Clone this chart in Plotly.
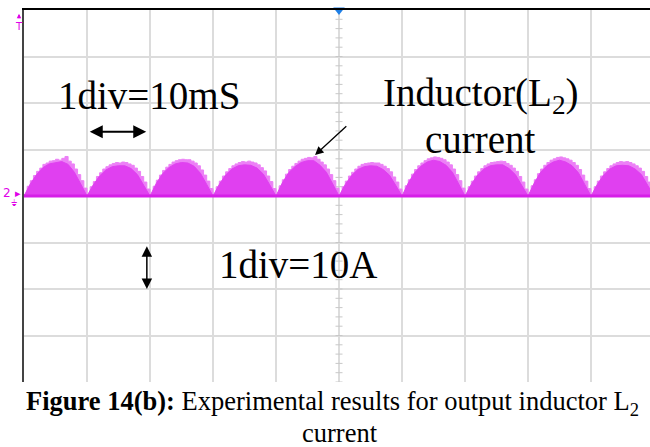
import numpy as np
import plotly.graph_objects as go

# ---- data ----
# time axis: 1 div = 10 ms, current axis: 1 div = 10 A
x_div_ms = 10
y_div_a = 10
n_xdiv = 10
n_ydiv = 8

# upper (ripple-peak) envelope of the inductor L2 current, per 10 ms hump (A), every 0.5 ms
peak_step_ms = 0.5
peak_1 = [0.3, 2.1, 3.3, 4.4, 5.3, 6.0, 6.8, 7.1, 7.5, 7.6, 7.9, 7.7, 8.1, 8.5, 7.5, 6.9, 5.8, 4.6, 3.3, 1.7]
peak_2 = [0.3, 2.0, 3.1, 4.2, 5.0, 5.8, 6.3, 6.7, 7.0, 7.2, 7.1, 7.3, 7.2, 6.9, 6.6, 6.0, 5.3, 4.2, 3.0, 1.5]
peak_3 = [0.3, 2.1, 3.4, 4.5, 5.5, 6.2, 6.8, 7.3, 7.6, 7.8, 7.9, 7.8, 7.8, 7.5, 7.1, 6.5, 5.6, 4.5, 3.2, 1.6]
peak_4 = [0.3, 2.0, 3.2, 4.3, 5.2, 5.9, 6.5, 6.9, 7.2, 7.4, 7.3, 7.5, 7.3, 7.1, 6.7, 6.1, 5.4, 4.3, 3.1, 1.6]
peak_5 = [0.3, 2.2, 3.5, 4.7, 5.7, 6.4, 7.0, 7.5, 7.9, 8.1, 8.3, 8.2, 8.5, 7.9, 7.3, 6.7, 5.8, 4.6, 3.3, 1.7]
peak_6 = [0.3, 2.0, 3.2, 4.3, 5.1, 5.8, 6.4, 6.8, 7.0, 7.1, 7.2, 7.1, 7.1, 6.8, 6.4, 5.9, 5.2, 4.1, 3.0, 1.5]
peak_7 = [0.3, 2.2, 3.5, 4.7, 5.7, 6.5, 7.1, 7.6, 8.0, 8.2, 8.4, 8.3, 8.1, 7.8, 7.3, 6.7, 5.8, 4.6, 3.3, 1.7]
peak_8 = [0.3, 2.0, 3.2, 4.3, 5.2, 5.9, 6.5, 6.9, 7.2, 7.3, 7.4, 7.5, 7.4, 7.0, 6.6, 6.0, 5.3, 4.2, 3.0, 1.5]
peak_9 = [0.3, 2.2, 3.5, 4.8, 5.8, 6.6, 7.2, 7.7, 8.0, 8.3, 8.4, 8.2, 8.0, 7.7, 7.2, 6.6, 5.7, 4.5, 3.2, 1.6]
peak_10 = [0.3, 2.0, 3.2, 4.3, 5.2, 5.9, 6.5, 6.9, 7.2, 7.4, 7.3, 7.4, 7.2, 6.9, 6.5, 6.0, 5.3, 4.2, 3.0, 1.5]
peak_end = [0.3]

# dense body (ripple-valley) envelope, per hump (A), every 1 ms
core_step_ms = 1
core_1 = [0, 2.6, 4.6, 6.1, 6.9, 7.2, 7.4, 6.8, 5.1, 2.6]
core_2 = [0, 2.4, 4.3, 5.6, 6.3, 6.5, 6.5, 5.9, 4.6, 2.3]
core_3 = [0, 2.7, 4.8, 6.1, 6.9, 7.2, 7.1, 6.4, 4.9, 2.5]
core_4 = [0, 2.5, 4.5, 5.8, 6.5, 6.7, 6.6, 6.0, 4.7, 2.4]
core_5 = [0, 2.8, 5.0, 6.3, 7.2, 7.6, 7.6, 6.6, 5.1, 2.6]
core_6 = [0, 2.5, 4.4, 5.7, 6.3, 6.5, 6.4, 5.7, 4.5, 2.3]
core_7 = [0, 2.8, 5.0, 6.4, 7.3, 7.7, 7.4, 6.6, 5.1, 2.6]
core_8 = [0, 2.5, 4.5, 5.8, 6.5, 6.7, 6.7, 5.9, 4.6, 2.3]
core_9 = [0, 2.8, 5.1, 6.5, 7.3, 7.7, 7.3, 6.5, 5.0, 2.5]
core_10 = [0, 2.5, 4.5, 5.8, 6.5, 6.6, 6.5, 5.8, 4.6, 2.3]
core_end = [0]

peak_current = (peak_1 + peak_2 + peak_3 + peak_4 + peak_5 + peak_6 + peak_7
                + peak_8 + peak_9 + peak_10 + peak_end)
core_current = (core_1 + core_2 + core_3 + core_4 + core_5 + core_6 + core_7
                + core_8 + core_9 + core_10 + core_end)
peak_time = np.arange(len(peak_current)) * peak_step_ms
core_time = np.arange(len(core_current)) * core_step_ms

# ---- figure ----
W, H = 650, 447
ml, mt, mb = 24, 10, 65
plot_w = 630  # full 10-division width; right part falls outside the picture
x_max = n_xdiv * x_div_ms * (W - ml) / plot_w

MAG = "rgb(224,64,240)"
MAG_LIGHT = "rgb(236,128,246)"
MAG_DARK = "rgb(214,30,232)"
SERIF = "Liberation Serif"

fig = go.Figure()

# centre graticule minor ticks
minor_y = np.arange(-n_ydiv / 2 * y_div_a, n_ydiv / 2 * y_div_a + 0.1, y_div_a / 5)
fig.add_trace(go.Scatter(
    x=[n_xdiv * x_div_ms / 2] * len(minor_y), y=minor_y, mode="markers",
    marker=dict(symbol="line-ew", size=5, line=dict(width=1, color="#c8c8c8")),
    hoverinfo="skip", showlegend=False))

# waveform: light ripple peaks, dense magenta body, thick baseline
fig.add_trace(go.Scatter(
    x=peak_time, y=peak_current, mode="lines", fill="tozeroy", line_shape="hv",
    fillcolor=MAG_LIGHT, line=dict(color=MAG_LIGHT, width=1),
    showlegend=False))
fig.add_trace(go.Scatter(
    x=core_time, y=core_current, mode="lines", fill="tozeroy",
    fillcolor=MAG, line=dict(color=MAG, width=1),
    showlegend=False))
fig.add_trace(go.Scatter(
    x=core_time, y=[0] * len(core_time), mode="lines",
    line=dict(color=MAG_DARK, width=3), showlegend=False))

# trigger position marker (top centre)
fig.add_trace(go.Scatter(
    x=[n_xdiv * x_div_ms / 2], y=[n_ydiv / 2 * y_div_a], mode="markers",
    marker=dict(symbol="triangle-down", size=10, color="#1e7fe6"),
    cliponaxis=False, showlegend=False))

tick_x = [i * x_div_ms for i in range(1, n_xdiv)]
tick_y = [(-n_ydiv / 2 + i) * y_div_a for i in range(1, n_ydiv + 1)]

fig.update_layout(
    width=W, height=H, margin=dict(l=ml, r=0, t=mt, b=mb),
    paper_bgcolor="white", plot_bgcolor="white",
    xaxis=dict(range=[0, x_max], tickmode="array", tickvals=tick_x,
               showgrid=True, gridcolor="#dcdcdc", gridwidth=1.5,
               zeroline=False, showline=True, linecolor="black", linewidth=1.5,
               side="top", showticklabels=False, ticks=""),
    yaxis=dict(range=[-n_ydiv / 2 * y_div_a, n_ydiv / 2 * y_div_a],
               tickmode="array", tickvals=tick_y,
               showgrid=True, gridcolor="#dcdcdc", gridwidth=1.5,
               zeroline=False, showline=True, linecolor="#444", linewidth=2,
               showticklabels=False, ticks=""),
)

ann = []
big = dict(family=SERIF, size=39, color="black")
ann.append(dict(x=5.1, y=21.7, text="1div=10mS", showarrow=False,
                xanchor="left", yanchor="middle", font=big))
ann.append(dict(x=56.6, y=21.7, text="Inductor(L<sub>2</sub>)", showarrow=False,
                xanchor="left", yanchor="middle", font=big))
ann.append(dict(x=63.4, y=12.2, text="current", showarrow=False,
                xanchor="left", yanchor="middle", font=big))
ann.append(dict(x=30.6, y=-14.8, text="1div=10A", showarrow=False,
                xanchor="left", yanchor="middle", font=big))

# double arrows
ann.append(dict(x=19.4, y=13.8, ax=10.2, ay=13.8, axref="x", ayref="y",
                text="", showarrow=True, arrowhead=2, arrowside="end+start",
                arrowsize=1.3, arrowwidth=2, arrowcolor="black"))
ann.append(dict(x=19.5, y=-20.0, ax=19.5, ay=-10.5, axref="x", ayref="y",
                text="", showarrow=True, arrowhead=2, arrowside="end+start",
                arrowsize=1.4, arrowwidth=1.5, arrowcolor="black"))
# pointer arrow
ann.append(dict(x=46.2, y=8.8, ax=51.4, ay=15.3, axref="x", ayref="y",
                text="", showarrow=True, arrowhead=2, arrowsize=1.3,
                arrowwidth=1.3, arrowcolor="black"))

# channel markers (magenta) at left edge
PINK = "#e000e8"
ann.append(dict(x=0, y=36.4, text="T", showarrow=False, xanchor="center",
                xshift=-5, font=dict(family="DejaVu Sans", size=10, color=PINK)))
ann.append(dict(x=0, y=39.2, text="", showarrow=True, ax=0, ay=6, xshift=-5,
                arrowhead=2, arrowsize=0.7, arrowwidth=1.3, arrowcolor=PINK))
ann.append(dict(x=0, y=0.6, text="2", showarrow=False, xanchor="right",
                xshift=-11, font=dict(family="DejaVu Sans", size=12, color=PINK)))
ann.append(dict(x=0, y=0.6, text="▸", showarrow=False, xanchor="right",
                xshift=-1, font=dict(family="DejaVu Sans", size=11, color=PINK)))
ann.append(dict(x=0, y=-1.6, text="⏚", showarrow=False, xanchor="right",
                xshift=-5, font=dict(family="DejaVu Sans", size=9, color=PINK)))

# caption
ann.append(dict(xref="paper", yref="paper", x=(332 - ml) / (W - ml), y=-0.057,
                text="<b>Figure 14(b):</b> Experimental results for output inductor L<sub>2</sub>",
                showarrow=False, xanchor="center", yanchor="middle",
                font=dict(family=SERIF, size=26.5, color="black")))
ann.append(dict(xref="paper", yref="paper", x=(340 - ml) / (W - ml), y=-0.136,
                text="current", showarrow=False, xanchor="center", yanchor="middle",
                font=dict(family=SERIF, size=26.5, color="black")))

fig.update_layout(annotations=ann)
fig.write_html("out.html")
